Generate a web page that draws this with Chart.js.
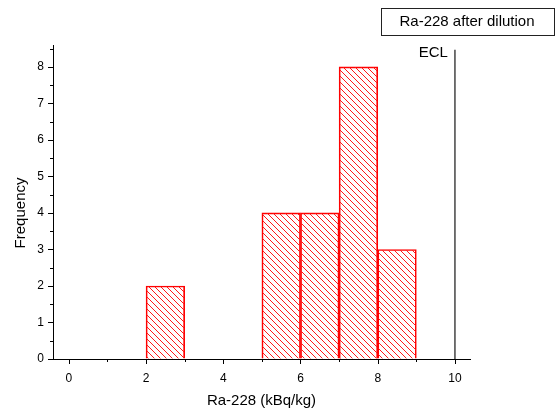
<!DOCTYPE html>
<html>
<head>
<meta charset="utf-8">
<script src="https://cdn.jsdelivr.net/npm/chart.js@4/dist/chart.umd.min.js"></script>
<style>
  html, body { margin: 0; padding: 0; background: #fff; }
  #wrap { width: 557px; height: 414px; }
</style>
</head>
<body>
<div id="wrap"><canvas id="c" width="557" height="414"></canvas></div>
<script>
// histogram bins (centre of each 1-unit bin) and counts
const binCenters = [2.5, 5.5, 6.5, 7.5, 8.5];
const counts = [2, 4, 4, 8, 3];
const xMajor = [0, 2, 4, 6, 8, 10];
const xMinor = [1, 3, 5, 7, 9];
const yMajor = [0, 1, 2, 3, 4, 5, 6, 7, 8];
const yMinor = [0.5, 1.5, 2.5, 3.5, 4.5, 5.5, 6.5, 7.5, 8.5];
const eclValue = 10;
const eclTop = 8.47;
const legendText = 'Ra-228 after dilution';

const FONT = '"Liberation Sans", Arial, sans-serif';

function hatchPattern() {
    const c = document.createElement('canvas');
    c.width = 6; c.height = 6;
    const g = c.getContext('2d');
    g.strokeStyle = '#ff1a1a';
    g.lineWidth = 1;
    g.beginPath();
    g.moveTo(-1, -1); g.lineTo(7, 7);
    g.moveTo(-1, 5); g.lineTo(1, 7);
    g.moveTo(5, -1); g.lineTo(7, 1);
    g.stroke();
    return g.createPattern(c, 'repeat');
}

// outward major/minor tick marks, y title, ECL label and the boxed legend
const decorations = {
    id: 'decorations',
    afterDraw(chart) {
        const ctx = chart.ctx;
        const xs = chart.scales.x, ys = chart.scales.y;
        const area = chart.chartArea;
        ctx.save();
        ctx.strokeStyle = '#000';
        ctx.lineWidth = 1;
        ctx.beginPath();
        xMajor.forEach(v => { const p = Math.round(xs.getPixelForValue(v)) + 0.5; ctx.moveTo(p, area.bottom); ctx.lineTo(p, area.bottom + 5); });
        xMinor.forEach(v => { const p = Math.round(xs.getPixelForValue(v)) + 0.5; ctx.moveTo(p, area.bottom); ctx.lineTo(p, area.bottom + 3); });
        yMajor.forEach(v => { const p = Math.round(ys.getPixelForValue(v)) + 0.5; ctx.moveTo(area.left, p); ctx.lineTo(area.left - 5, p); });
        yMinor.forEach(v => { const p = Math.round(ys.getPixelForValue(v)) + 0.5; ctx.moveTo(area.left, p); ctx.lineTo(area.left - 3, p); });
        ctx.stroke();

        ctx.fillStyle = '#000';
        ctx.font = '15px ' + FONT;
        ctx.textBaseline = 'middle';

        // y axis title, placed a little below the axis centre like the original
        ctx.save();
        ctx.translate(21, ys.getPixelForValue(4.0));
        ctx.rotate(-Math.PI / 2);
        ctx.textAlign = 'center';
        ctx.fillText('Frequency', 0, 0);
        ctx.restore();

        // ECL label
        ctx.textAlign = 'right';
        ctx.fillText('ECL', xs.getPixelForValue(eclValue) - 7, ys.getPixelForValue(eclTop) + 3);

        // legend box
        ctx.strokeStyle = '#222';
        ctx.strokeRect(381.5, 8.5, 173, 27);
        ctx.textAlign = 'center';
        ctx.fillText(legendText, 467, 22);
        ctx.restore();
    }
};

new Chart(document.getElementById('c'), {
    type: 'bar',
    data: {
        datasets: [
            {
                type: 'bar',
                data: binCenters.map((x, i) => ({ x: x, y: counts[i] })),
                backgroundColor: hatchPattern(),
                borderColor: '#ff0000',
                borderWidth: 1,
                barPercentage: 1,
                categoryPercentage: 1,
                order: 2
            },
            {
                type: 'line',
                data: [{ x: eclValue, y: 0 }, { x: eclValue, y: eclTop }],
                borderColor: '#444',
                borderWidth: 1.5,
                pointRadius: 0,
                order: 1
            }
        ]
    },
    options: {
        responsive: false,
        animation: false,
        layout: { padding: { left: 0, top: 45, right: 87, bottom: 0 } },
        plugins: { legend: { display: false }, tooltip: { enabled: false } },
        scales: {
            x: {
                type: 'linear',
                offset: false,
                min: -0.41,
                max: 10.39,
                grid: { display: true, drawOnChartArea: false, drawTicks: false, offset: false },
                border: { display: true, color: '#000', width: 1 },
                afterBuildTicks: s => { s.ticks = xMajor.map(v => ({ value: v })); },
                afterFit: s => { s.height = 55; },
                ticks: { color: '#000', padding: 12, font: { family: FONT, size: 12 }, maxRotation: 0 },
                title: { display: true, text: 'Ra-228 (kBq/kg)', color: '#000', font: { family: FONT, size: 15 }, padding: { top: 0, bottom: 4 } }
            },
            y: {
                min: 0,
                max: 8.6,
                grid: { display: true, drawOnChartArea: false, drawTicks: false },
                border: { display: true, color: '#000', width: 1 },
                afterBuildTicks: s => { s.ticks = yMajor.map(v => ({ value: v })); },
                afterFit: s => { s.width = 53; },
                ticks: { color: '#000', padding: 9, font: { family: FONT, size: 12 } },
                title: { display: false }
            }
        }
    },
    plugins: [decorations]
});
</script>
</body>
</html>
